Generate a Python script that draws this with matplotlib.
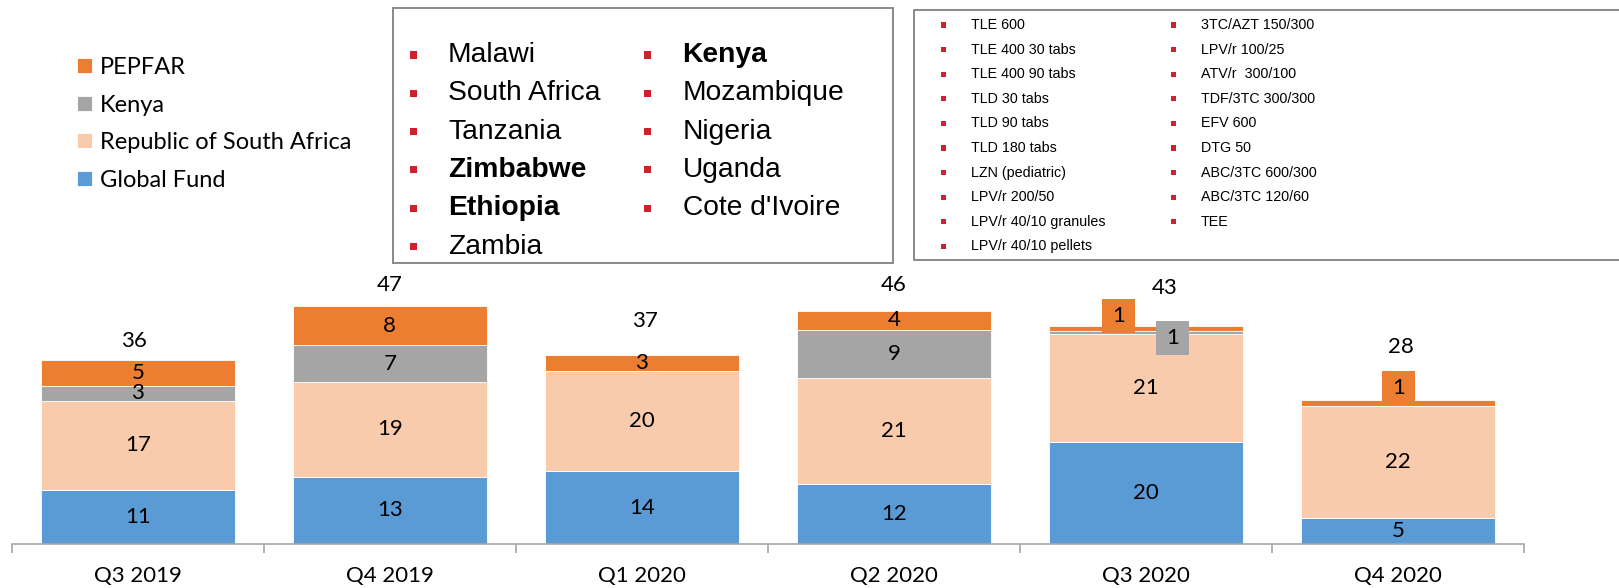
import numpy as np
import matplotlib
matplotlib.use('Agg')
import matplotlib.pyplot as plt
from matplotlib.patches import Rectangle
from matplotlib import font_manager

#Chart data (labels are the rounded numbers)
quarters = ['Q3 2019', 'Q4 2019', 'Q1 2020', 'Q2 2020', 'Q3 2020', 'Q4 2020']
global_fund = [10.7, 13.2, 14.3, 11.9, 20.0, 5.1]
south_africa = [17.4, 18.7, 19.8, 20.8, 21.4, 22.1]
kenya = [3.1, 7.2, 0.0, 9.4, 0.6, 0.0]
pepfar = [5.0, 7.7, 3.1, 3.8, 1.0, 1.2]

series_names = ['Global Fund', 'Republic of South Africa', 'Kenya', 'PEPFAR']
series_colors = ['#5B9BD5', '#F8CBAD', '#A5A5A5', '#ED7D31']

countries_left = ['Malawi', 'South Africa', 'Tanzania', 'Zimbabwe', 'Ethiopia', 'Zambia']
countries_right = ['Kenya', 'Mozambique', 'Nigeria', 'Uganda', "Cote d'Ivoire"]
countries_bold = ['Zimbabwe', 'Ethiopia', 'Kenya']

drugs_left = ['TLE 600', 'TLE 400 30 tabs', 'TLE 400 90 tabs', 'TLD 30 tabs', 'TLD 90 tabs',
              'TLD 180 tabs', 'LZN (pediatric)', 'LPV/r 200/50', 'LPV/r 40/10 granules',
              'LPV/r 40/10 pellets']
drugs_right = ['3TC/AZT 150/300', 'LPV/r 100/25', 'ATV/r  300/100', 'TDF/3TC 300/300',
               'EFV 600', 'DTG 50', 'ABC/3TC 600/300', 'ABC/3TC 120/60', 'TEE']

#Label placement tweaks (pixels): total labels above bars, and the boxed small labels
total_gap_px = [19, 21, 34, 26, 38, 53]
total_dx_px = [-4, 0, 3, 0, 18, 3]
boxed_labels = {(3, 4): (-28, 12), (2, 4): (26, -6), (3, 5): (0, 15)}

W, H = 1619, 588
DPI = 100
px = 72 / DPI  #points per pixel

names = {f.name for f in font_manager.fontManager.ttflist}
calibri = 'Lato' if 'Lato' in names else 'DejaVu Sans'
narrow = 'Liberation Sans Narrow' if 'Liberation Sans Narrow' in names else 'Liberation Sans'
narrow_size = 11.4 if narrow == 'Liberation Sans Narrow' else 10.3
plt.rcParams['font.family'] = [calibri, 'DejaVu Sans']

fig = plt.figure(figsize=(W / DPI, H / DPI), dpi=DPI)

#Overlay in pixel coordinates for the two text boxes
lay = fig.add_axes([0, 0, 1, 1])
lay.set_xlim(0, W)
lay.set_ylim(H, 0)
lay.axis('off')

ax = fig.add_axes([11.7 / W, 1 - 544 / H, (1524.3 - 11.7) / W, 254 / H])
ax.patch.set_alpha(0)

x = np.arange(len(quarters))
data = [global_fund, south_africa, kenya, pepfar]
bottom = np.zeros(len(quarters))
containers = []
for s, (vals, name, col) in enumerate(zip(data, series_names, series_colors)):
    vals = np.array(vals)
    bc = ax.bar(x, vals, 0.77, bottom=bottom, color=col, label=name,
                edgecolor='white', linewidth=0.6)
    containers.append(bc)
    for i in range(len(quarters)):
        if vals[i] == 0:
            continue
        yc = bottom[i] + vals[i] / 2
        txt = '%d' % round(vals[i])
        if (s, i) in boxed_labels:
            dx, dy = boxed_labels[(s, i)]
            ax.annotate(txt, (x[i], yc), xytext=(dx * px, dy * px), textcoords='offset points',
                        ha='center', va='center', fontsize=16, color='black',
                        bbox=dict(boxstyle='square,pad=0.45', fc=col, ec='none',
                                  mutation_aspect=0.67))
        else:
            ax.annotate(txt, (x[i], yc), ha='center', va='center', fontsize=16, color='black')
    bottom = bottom + vals

for i in range(len(quarters)):
    ax.annotate('%d' % round(bottom[i]), (x[i], bottom[i]),
                xytext=(total_dx_px[i] * px, total_gap_px[i] * px), textcoords='offset points',
                ha='center', va='center', fontsize=16, color='black')

ax.set_xlim(-0.5, len(quarters) - 0.5)
ax.set_ylim(0, 50)
ax.set_yticks([])
for side in ['left', 'right', 'top']:
    ax.spines[side].set_visible(False)
ax.spines['bottom'].set_color('#A6A6A6')
ax.spines['bottom'].set_linewidth(1.2)
ax.set_xticks(x)
ax.set_xticklabels(quarters, fontsize=16)
ax.tick_params(axis='x', which='major', length=0, pad=15.5)
ax.set_xticks(np.arange(-0.5, len(quarters)), minor=True)
ax.tick_params(axis='x', which='minor', length=6.5, width=1.2, color='#A6A6A6', direction='out')

#Series legend on the left, PEPFAR first
fig.legend(handles=containers[::-1], labels=series_names[::-1], loc='upper left',
           bbox_to_anchor=(77 / W, 1 - 57 / H), frameon=False, fontsize=17,
           handlelength=0.62, handleheight=0.62, handletextpad=0.35, labelspacing=0.7,
           borderpad=0, borderaxespad=0)

#Country box
red = '#D0202E'
lay.add_patch(Rectangle((393.3, 8.3), 892.7 - 393.3, 263.3 - 8.3, fill=False,
                        ec='#8C8C8C', lw=2 * px))
for col_items, bx, tx in [(countries_left, 413.3, 448), (countries_right, 647.7, 682.5)]:
    for k, name in enumerate(col_items):
        yy = 55 + k * 38.3
        lay.add_patch(Rectangle((bx - 3.6, yy - 3.6), 7.2, 7.2, color=red, lw=0))
        lay.text(tx, yy, name, fontsize=20.3, family='Liberation Sans', va='center', ha='left',
                 fontweight='bold' if name in countries_bold else 'normal')

#Drug box (runs off the right edge)
lay.plot([W + 5, 914, 914, W + 5], [10.3, 10.3, 260, 260], color='#8C8C8C', lw=2 * px,
         clip_on=False)
for col_items, bx, tx in [(drugs_left, 943.3, 970.7), (drugs_right, 1173.3, 1201)]:
    for k, name in enumerate(col_items):
        yy = 25 + k * 24.6
        lay.add_patch(Rectangle((bx - 2.2, yy - 2.6), 4.4, 5.2, color=red, lw=0))
        lay.text(tx, yy, name, fontsize=narrow_size, family=narrow, va='center', ha='left')

fig.savefig('out.png', dpi=DPI)
